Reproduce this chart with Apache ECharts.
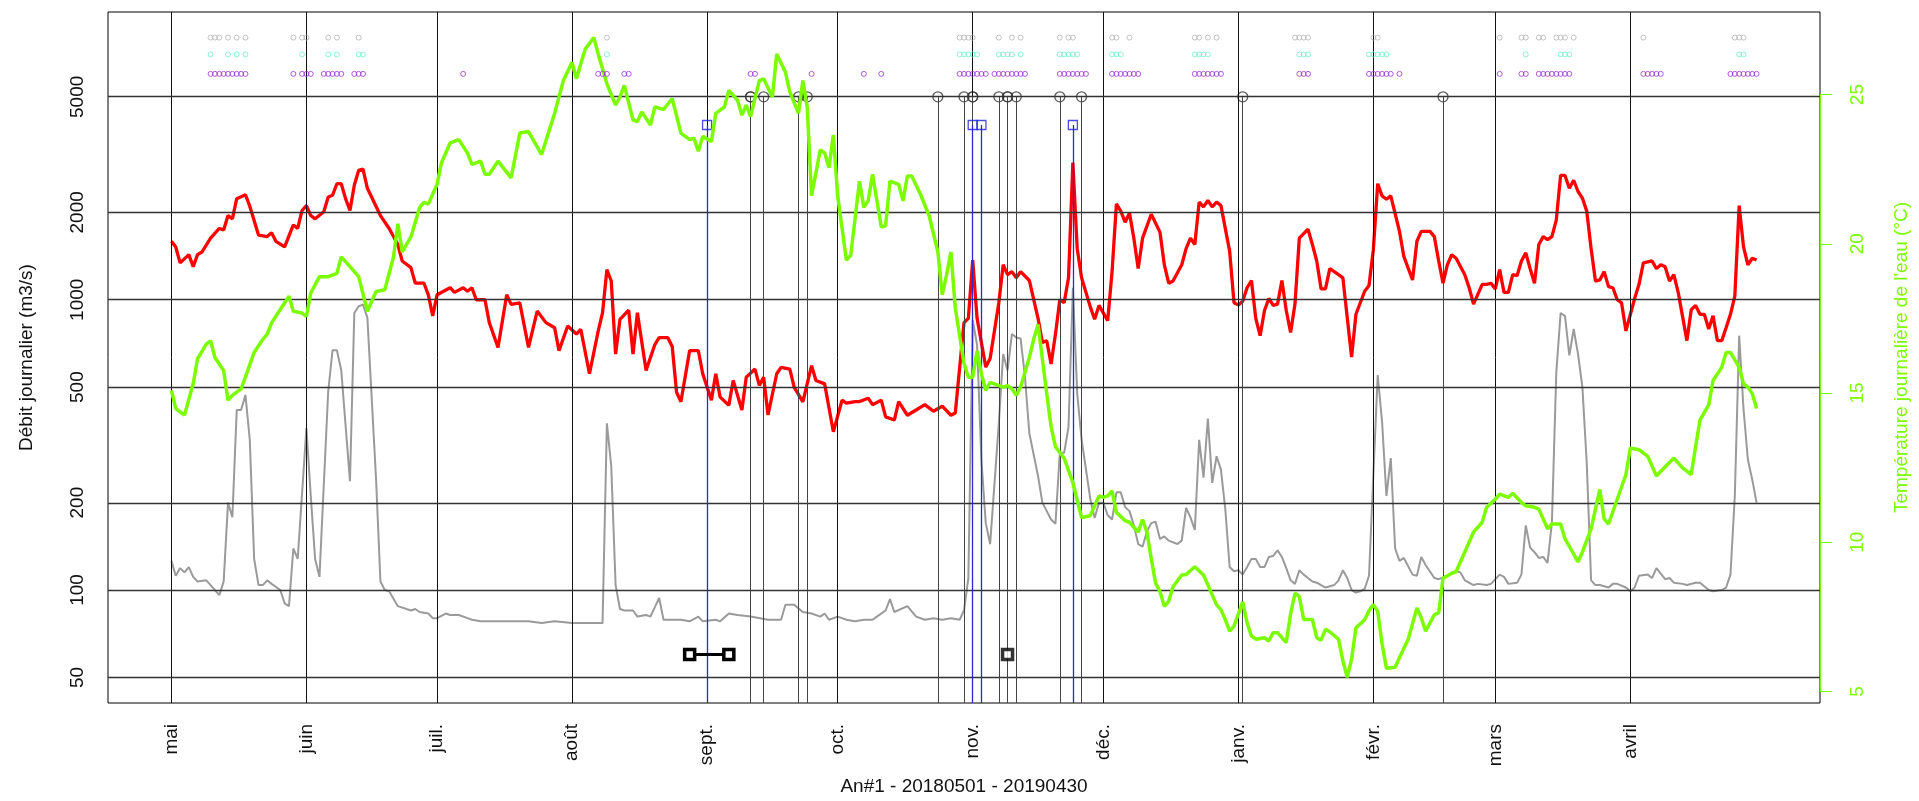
<!DOCTYPE html>
<html lang="fr">
<head>
<meta charset="utf-8">
<title>Débit et température journaliers 2018-2019</title>
<script src="https://cdn.jsdelivr.net/npm/echarts@6/dist/echarts.min.js"></script>
<style>
  html, body { margin: 0; padding: 0; background: #fff; }
  #chart { width: 1919px; height: 801px; }
</style>
</head>
<body>
<div id="chart"></div>
<script>
// Day 0 = 1 May 2018, day 364 = 30 April 2019
const moisJours = [0, 31, 61, 92, 123, 153, 184, 214, 245, 276, 304, 335];
const moisNoms = ['mai', 'juin', 'juil.', 'août', 'sept.', 'oct.', 'nov.', 'déc.', 'janv.', 'févr.', 'mars', 'avril'];
const debitTicks = [50, 100, 200, 500, 1000, 2000, 5000];
const tempTicks = [5, 10, 15, 20, 25];
const debitLimites = [50, 8000];

// Daily discharge, main station (m3/s): [day, value]
const debitRouge = [[0,1590],[1,1520],[2,1340],[4,1430],[5,1300],[6,1430],[7,1460],[9,1630],[11,1760],[12,1740],[13,1950],[14,1900],[15,2230],[17,2300],[18,2100],[20,1670],[22,1650],[23,1700],[24,1590],[26,1520],[28,1810],[29,1760],[30,2030],[31,2110],[32,1950],[33,1900],[35,2010],[36,2260],[37,2290],[38,2510],[39,2510],[40,2230],[41,2030],[42,2480],[43,2790],[44,2820],[45,2420],[48,1950],[50,1760],[52,1550],[53,1360],[55,1290],[56,1140],[58,1140],[59,1040],[60,880],[61,1040],[64,1100],[65,1060],[67,1100],[68,1070],[69,1100],[70,1000],[72,1000],[73,834],[75,685],[76,845],[77,1040],[78,964],[80,975],[82,685],[84,914],[86,834],[88,801],[89,668],[91,812],[93,762],[94,791],[96,556],[98,780],[99,902],[100,1270],[101,1160],[102,650],[103,855],[105,921],[106,650],[107,902],[109,571],[111,700],[112,740],[114,740],[115,690],[116,480],[117,445],[119,668],[121,668],[122,556],[124,451],[125,556],[126,462],[128,433],[129,527],[131,417],[132,541],[134,577],[135,507],[136,541],[137,401],[139,556],[140,585],[142,577],[143,500],[145,445],[147,593],[148,527],[150,513],[152,351],[154,451],[155,440],[157,446],[158,446],[160,458],[161,435],[163,451],[164,395],[166,385],[167,446],[169,400],[171,417],[173,435],[175,413],[177,430],[179,400],[180,407],[182,834],[183,863],[184,1370],[185,863],[187,586],[188,627],[190,977],[191,1320],[192,1220],[193,1250],[194,1190],[195,1250],[197,1165],[199,863],[200,713],[201,722],[202,601],[203,760],[204,1000],[205,977],[206,1190],[207,2970],[208,1500],[209,1190],[211,945],[212,857],[213,956],[215,847],[216,1250],[217,2140],[218,2020],[219,1850],[220,1990],[221,1630],[222,1280],[223,1630],[225,1970],[227,1710],[228,1320],[229,1140],[230,1160],[232,1320],[233,1500],[234,1630],[235,1550],[236,2170],[237,2090],[238,2200],[239,2090],[240,2170],[241,2110],[243,1470],[244,977],[245,960],[246,988],[247,1100],[248,1165],[249,863],[250,752],[251,918],[252,1010],[253,956],[254,966],[255,1165],[256,918],[257,771],[258,966],[259,1630],[261,1750],[262,1550],[263,1360],[264,1090],[265,1090],[266,1280],[268,1220],[269,1190],[271,634],[272,891],[274,1070],[275,1120],[276,1490],[277,2510],[278,2280],[279,2220],[280,2280],[282,1720],[283,1410],[285,1170],[286,1590],[287,1720],[289,1720],[290,1650],[291,1360],[292,1140],[293,1320],[294,1430],[295,1390],[297,1220],[298,1100],[299,966],[301,1130],[302,1130],[303,1140],[304,1090],[305,1270],[306,1060],[307,1060],[308,1220],[309,1210],[310,1360],[311,1450],[312,1280],[313,1140],[314,1550],[315,1650],[316,1610],[317,1650],[318,1880],[319,2680],[320,2680],[321,2420],[322,2580],[323,2360],[324,2240],[325,2020],[326,1500],[327,1160],[328,1170],[329,1250],[330,1110],[331,1100],[332,1000],[333,975],[334,781],[336,1010],[337,1130],[338,1340],[340,1360],[341,1280],[342,1320],[343,1300],[344,1160],[345,1220],[346,1060],[348,723],[349,925],[350,956],[351,891],[352,891],[353,793],[354,880],[355,723],[356,723],[357,801],[358,891],[359,1030],[360,2110],[361,1520],[362,1320],[363,1390],[364,1370]];

// Daily discharge, tributary (m3/s): [day, value]
const debitGris = [[0,126],[1,112],[2,119],[3,115],[4,120],[5,111],[6,107],[8,108],[9,104],[11,96],[12,107],[13,200],[14,178],[15,417],[16,417],[17,470],[18,329],[19,128],[20,104],[21,104],[22,108],[23,105],[25,100],[26,90],[27,88],[28,139],[29,128],[31,361],[32,211],[33,128],[34,111],[36,482],[37,670],[38,670],[39,572],[41,237],[42,900],[43,950],[44,962],[45,868],[47,240],[48,107],[49,100],[50,99],[52,88],[55,85],[56,86],[57,84],[59,83],[60,80],[61,80],[63,83],[64,82],[66,82],[68,80],[69,79],[71,78],[73,78],[76,78],[79,78],[82,78],[85,77],[88,78],[92,77],[96,77],[99,77],[100,375],[101,267],[102,104],[103,86],[104,85],[106,85],[107,81],[109,82],[110,81],[112,94],[113,79],[115,79],[117,79],[119,78],[121,81],[122,78],[125,79],[126,78],[128,83],[130,82],[133,81],[137,79],[138,79],[140,79],[141,89],[143,89],[145,84],[147,83],[149,81],[150,83],[151,79],[153,81],[155,79],[157,78],[159,79],[161,79],[162,81],[164,85],[165,93],[166,84],[169,88],[171,81],[173,79],[175,80],[177,79],[179,80],[181,79],[182,85],[183,110],[184,850],[185,700],[186,280],[187,170],[188,144],[190,376],[191,650],[192,571],[193,762],[194,741],[195,735],[196,542],[197,347],[199,247],[200,200],[202,175],[203,169],[204,297],[205,297],[206,365],[207,1100],[208,475],[209,330],[211,206],[212,177],[213,200],[214,200],[215,181],[216,175],[217,217],[218,217],[219,193],[220,187],[221,167],[222,144],[223,141],[224,159],[225,170],[226,172],[227,150],[228,153],[229,148],[231,144],[232,148],[233,192],[234,178],[235,161],[236,329],[237,244],[238,390],[239,234],[240,289],[241,260],[242,190],[243,120],[244,116],[245,117],[246,113],[247,120],[248,128],[249,128],[250,120],[251,120],[252,130],[253,131],[254,137],[255,130],[256,119],[257,108],[258,105],[259,117],[260,113],[261,110],[262,107],[263,106],[264,104],[265,102],[267,104],[268,108],[269,117],[270,110],[271,100],[272,98],[273,99],[274,101],[275,112],[276,250],[277,550],[278,380],[279,211],[280,285],[281,139],[282,126],[283,129],[285,113],[286,112],[287,130],[288,122],[290,110],[291,109],[293,112],[295,116],[296,115],[297,108],[299,104],[300,105],[302,104],[303,105],[305,113],[306,111],[307,105],[309,106],[310,113],[311,167],[312,140],[313,135],[314,129],[315,130],[316,124],[317,171],[318,560],[319,900],[320,880],[321,643],[322,793],[323,650],[324,500],[325,274],[326,108],[327,104],[328,104],[330,102],[331,105],[332,105],[334,102],[335,99],[336,102],[337,112],[339,113],[340,110],[341,119],[343,109],[344,110],[345,106],[347,105],[348,104],[350,106],[351,106],[353,100],[354,99],[356,100],[357,102],[358,113],[359,211],[360,752],[361,420],[362,281],[363,240],[364,200]];

// Daily water temperature (°C): [day, value]
const temperature = [[0,15.09],[1,14.48],[3,14.26],[5,15.31],[6,16.14],[8,16.64],[9,16.75],[10,16.19],[12,15.75],[13,14.76],[14,14.92],[16,15.14],[17,15.53],[19,16.36],[21,16.8],[22,16.97],[23,17.35],[25,17.8],[27,18.24],[28,17.74],[30,17.68],[31,17.57],[32,18.35],[34,18.9],[36,18.9],[38,19.01],[39,19.56],[40,19.4],[43,18.9],[45,17.74],[47,18.4],[49,18.46],[51,19.56],[52,20.67],[53,19.73],[55,20.23],[57,21.22],[58,21.39],[59,21.33],[61,21.99],[62,22.71],[64,23.38],[66,23.49],[68,23.04],[69,22.66],[71,22.77],[72,22.33],[73,22.33],[75,22.77],[78,22.21],[80,23.71],[82,23.76],[85,22.99],[88,24.37],[90,25.47],[92,26.08],[93,25.53],[95,26.52],[97,26.91],[98,26.36],[100,25.36],[102,24.65],[103,24.92],[104,25.31],[106,24.15],[107,24.09],[108,24.42],[110,23.98],[111,24.59],[113,24.5],[115,24.87],[117,23.71],[119,23.49],[120,23.54],[121,23.1],[122,23.6],[124,23.43],[125,24.37],[127,24.59],[128,25.14],[130,24.81],[131,24.31],[132,24.65],[133,24.26],[135,25.47],[136,25.53],[138,24.92],[139,26.36],[141,25.75],[142,25.09],[144,24.37],[145,25.47],[146,24.59],[147,21.61],[149,23.15],[150,23.04],[151,22.55],[152,23.65],[153,21.6],[155,19.45],[156,19.62],[158,22.1],[159,21.22],[160,21.44],[161,22.33],[163,20.56],[164,20.61],[165,22.1],[167,21.99],[168,21.44],[169,22.27],[170,22.27],[172,21.66],[174,20.94],[176,19.73],[177,18.29],[178,18.96],[179,19.73],[180,17.85],[182,16.0],[183,15.53],[184,15.53],[185,16.41],[186,15.64],[187,15.09],[188,15.36],[190,15.25],[191,15.2],[192,15.25],[193,15.14],[194,14.92],[195,15.2],[197,16.19],[198,16.8],[199,17.3],[201,14.98],[202,13.87],[203,13.2],[205,12.82],[207,12.0],[209,10.83],[211,10.89],[213,11.55],[214,11.5],[215,11.55],[216,11.72],[217,11.0],[219,10.72],[220,10.67],[221,10.5],[222,10.34],[223,10.76],[224,10.34],[225,9.45],[226,8.63],[227,8.35],[228,7.85],[229,8.02],[230,8.51],[232,8.9],[233,8.92],[235,9.18],[237,8.9],[238,8.57],[240,7.9],[241,7.74],[242,7.41],[243,7.02],[244,7.19],[246,8.0],[247,7.3],[248,6.86],[249,6.75],[251,6.8],[252,6.69],[253,6.97],[254,6.97],[255,6.8],[256,6.64],[257,7.6],[258,8.29],[259,8.18],[260,7.41],[262,7.41],[263,6.8],[264,6.72],[265,7.08],[266,7.0],[268,6.75],[269,6.03],[270,5.47],[271,6.08],[272,7.13],[274,7.4],[275,7.7],[276,7.91],[277,7.69],[278,6.6],[279,5.78],[281,5.81],[282,6.14],[284,6.75],[286,7.8],[287,7.47],[288,7.02],[290,7.57],[291,7.63],[292,8.79],[294,8.96],[295,9.01],[297,9.67],[299,10.34],[301,10.67],[302,11.17],[304,11.44],[305,11.61],[307,11.5],[308,11.64],[310,11.33],[311,11.22],[313,11.17],[314,11.11],[316,10.45],[317,10.61],[319,10.61],[320,10.12],[323,9.34],[324,9.67],[326,10.45],[328,11.77],[329,10.78],[330,10.61],[332,11.44],[334,12.27],[335,13.16],[337,13.1],[339,12.88],[340,12.55],[341,12.22],[342,12.38],[345,12.82],[347,12.49],[349,12.27],[350,13.21],[351,14.09],[353,14.6],[354,15.42],[356,15.86],[357,16.36],[358,16.36],[360,15.86],[361,15.31],[362,15.2],[363,14.98],[364,14.48]];

// Observation days for the three top rows
const releveGris = [9,10,11,13,15,17,28,30,31,36,38,43,100,181,182,183,184,190,193,195,204,206,207,216,217,220,235,236,238,240,258,259,260,261,276,277,305,310,311,314,315,318,319,320,322,338,359,360,361];
const releveAigue = [9,13,15,17,30,36,38,43,44,100,181,182,183,184,185,190,191,192,193,195,204,205,206,207,208,216,217,218,235,236,237,238,259,260,261,275,276,277,278,279,311,319,320,321,360,361];
const releveViolet = [9,10,11,12,13,14,15,16,17,28,30,31,32,35,36,37,38,39,42,43,44,67,98,99,100,104,105,133,134,147,159,163,181,182,183,184,185,186,187,189,190,191,192,193,194,195,196,204,205,206,207,208,209,210,216,217,218,219,220,221,222,235,236,237,238,239,240,241,259,260,261,275,276,277,278,279,280,282,305,310,311,314,315,316,317,318,319,320,321,338,339,340,341,342,358,359,360,361,362,363,364];
const niveauxReleves = [8000, 7000, 6000];

// Event days
const evenementsNoirs = [133,133,136,144,146,176,182,184,184,190,192,192,194,204,209,246,292];
const evenementsBleus = [123,184,186,207];
const niveauNoir = 5000;
const niveauBleu = 4000;
const periodeBasse = [119, 128];
const pointBas = [192];
const niveauBas = 60;

const L = v => Math.log10(v);
const FONT = '"Liberation Sans", Arial, Helvetica, sans-serif';
const VERT = '#7cfc00';

// R-style 4% padding on every scale
const nJours = 364;
const xLo = -0.04 * nJours, xHi = nJours * 1.04;
const ySpan = L(debitLimites[1]) - L(debitLimites[0]);
const yLo = L(debitLimites[0]) - 0.04 * ySpan, yHi = L(debitLimites[1]) + 0.04 * ySpan;
const tVals = temperature.map(p => p[1]);
const tMin = Math.min(...tVals), tMax = Math.max(...tVals);
const tLo = tMin - 0.04 * (tMax - tMin), tHi = tMax + 0.04 * (tMax - tMin);

const toLog = arr => arr.map(([d, v]) => [d, L(v)]);
const hollow = c => ({ color: 'rgba(0,0,0,0)', borderColor: c, borderWidth: 1 });

const verticalSegments = (days, level, color, width) => days.map(d => [
  { coord: [d, L(level)], lineStyle: { color: color, width: width, type: 'solid' } },
  { coord: [d, yLo] }
]);

const releveSeries = (days, level, color) => ({
  type: 'scatter',
  data: days.map(d => [d, L(level)]),
  symbol: 'circle',
  symbolSize: 5,
  itemStyle: hollow(color),
  silent: true,
  z: 8
});

const chart = echarts.init(document.getElementById('chart'), null, { renderer: 'canvas' });

chart.setOption({
  animation: false,
  backgroundColor: '#ffffff',
  textStyle: { fontFamily: FONT },
  grid: {
    left: 108, right: 95, top: 12, bottom: 92,
    show: true, borderColor: '#000', borderWidth: 1, backgroundColor: 'rgba(0,0,0,0)'
  },
  xAxis: {
    type: 'value', min: xLo, max: xHi,
    name: 'An#1 - 20180501 - 20190430',
    nameLocation: 'middle', nameGap: 74,
    nameTextStyle: { fontFamily: FONT, fontSize: 19, color: '#111' },
    axisLine: { show: false }, axisTick: { show: false }, splitLine: { show: false },
    axisLabel: {
      customValues: moisJours, rotate: 90, margin: 21,
      fontFamily: FONT, fontSize: 19, color: '#111',
      formatter: v => moisNoms[moisJours.indexOf(Math.round(v))] || ''
    }
  },
  yAxis: [
    {
      type: 'value', min: yLo, max: yHi, position: 'left',
      name: 'Débit journalier (m3/s)',
      nameLocation: 'middle', nameRotate: 90, nameGap: 72,
      nameTextStyle: { fontFamily: FONT, fontSize: 19, color: '#111' },
      axisLine: { show: false }, axisTick: { show: false }, splitLine: { show: false },
      axisLabel: {
        customValues: debitTicks.map(L), rotate: 90, margin: 21,
        fontFamily: FONT, fontSize: 19, color: '#111',
        formatter: v => String(Math.round(Math.pow(10, v)))
      }
    },
    {
      type: 'value', min: tLo, max: tHi, position: 'right',
      name: "Température journalière de l'eau (°C)",
      nameLocation: 'middle', nameRotate: 90, nameGap: 72,
      nameTextStyle: { fontFamily: FONT, fontSize: 19, color: VERT },
      axisLine: { show: false },
      axisTick: { show: true, customValues: tempTicks, length: 12, lineStyle: { color: VERT, width: 1 } },
      splitLine: { show: false },
      axisLabel: {
        customValues: tempTicks, rotate: 90, margin: 28,
        fontFamily: FONT, fontSize: 19, color: VERT
      }
    }
  ],
  series: [
    {
      // reference grid: month starts and discharge ticks
      name: 'grille', type: 'line', data: [], silent: true, z: 1,
      markLine: {
        silent: true, symbol: ['none', 'none'], label: { show: false }, animation: false,
        data: [
          ...moisJours.map(d => ({ xAxis: d, lineStyle: { color: '#111', width: 1, type: 'solid' } })),
          ...debitTicks.map(v => ({ yAxis: L(v), lineStyle: { color: '#333', width: 1.4, type: 'solid' } }))
        ]
      }
    },
    {
      name: 'Débit affluent', type: 'line', data: toLog(debitGris),
      symbol: 'none', lineStyle: { color: '#9a9a9a', width: 2 }, z: 2, silent: true
    },
    {
      name: 'Débit journalier', type: 'line', data: toLog(debitRouge),
      symbol: 'none', lineStyle: { color: '#ff0000', width: 3.3 }, z: 3, silent: true
    },
    {
      name: 'Événements', type: 'scatter',
      data: evenementsNoirs.map(d => [d, L(niveauNoir)]),
      symbol: 'circle', symbolSize: 10, itemStyle: { color: 'rgba(0,0,0,0)', borderColor: '#333', borderWidth: 1.3 },
      z: 4, silent: true,
      markLine: {
        silent: true, symbol: ['none', 'none'], label: { show: false }, animation: false,
        data: verticalSegments(evenementsNoirs, niveauNoir, '#444', 1)
      }
    },
    {
      name: 'Crues', type: 'scatter',
      data: evenementsBleus.map(d => [d, L(niveauBleu)]),
      symbol: 'rect', symbolSize: 9, itemStyle: { color: 'rgba(0,0,0,0)', borderColor: '#2020e0', borderWidth: 1.3 },
      z: 5, silent: true,
      markLine: {
        silent: true, symbol: ['none', 'none'], label: { show: false }, animation: false,
        data: verticalSegments(evenementsBleus, niveauBleu, '#2a2ad0', 1.3)
      }
    },
    {
      name: 'Température', type: 'line', yAxisIndex: 1, data: temperature,
      symbol: 'none', lineStyle: { color: VERT, width: 3.5 }, z: 6, silent: true,
      markLine: {
        silent: true, symbol: ['none', 'none'], label: { show: false }, animation: false,
        data: [[
          { coord: [xHi, tempTicks[0]], lineStyle: { color: VERT, width: 1.2, type: 'solid' } },
          { coord: [xHi, tempTicks[tempTicks.length - 1]] }
        ]]
      }
    },
    {
      name: 'Étiage', type: 'line',
      data: periodeBasse.map(d => [d, L(niveauBas)]),
      symbol: 'rect', symbolSize: 10, showSymbol: true,
      lineStyle: { color: '#000', width: 3 },
      itemStyle: { color: '#fff', borderColor: '#000', borderWidth: 3.5 },
      z: 7, silent: true
    },
    {
      name: 'Étiage ponctuel', type: 'scatter',
      data: pointBas.map(d => [d, L(niveauBas)]),
      symbol: 'rect', symbolSize: 10,
      itemStyle: { color: '#fff', borderColor: '#000', borderWidth: 3.5 },
      z: 7, silent: true
    },
    releveSeries(releveGris, niveauxReleves[0], '#b4b4b4'),
    releveSeries(releveAigue, niveauxReleves[1], '#6fefc8'),
    releveSeries(releveViolet, niveauxReleves[2], '#9b35d5')
  ]
});
</script>
</body>
</html>
